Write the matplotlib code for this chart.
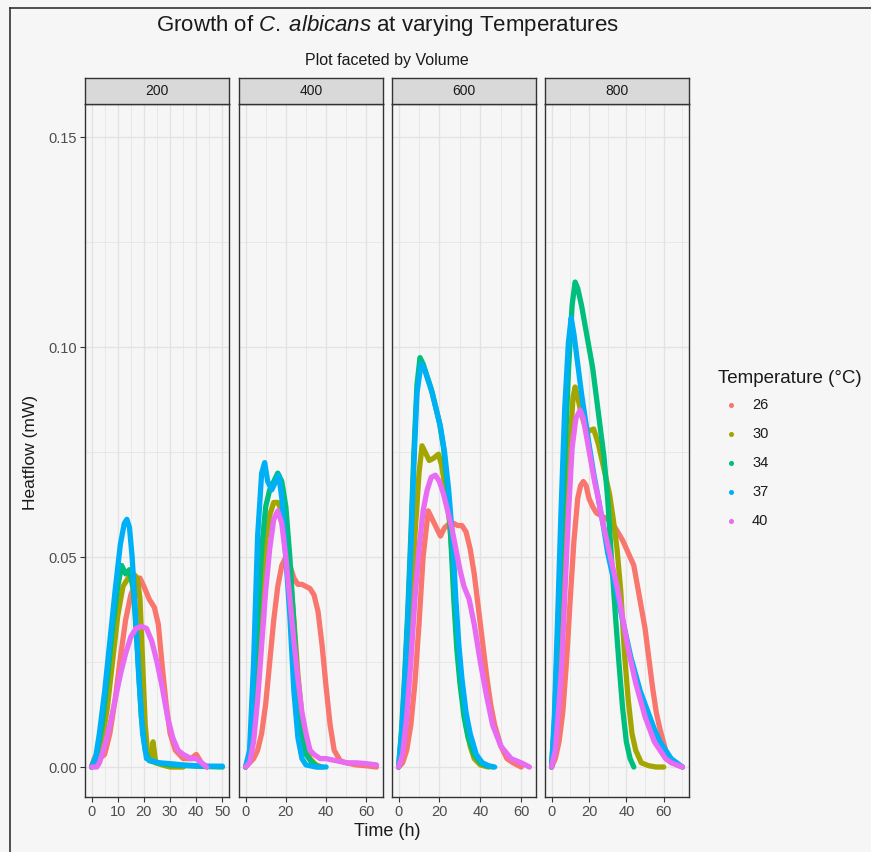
import matplotlib.pyplot as plt
from matplotlib.lines import Line2D
import numpy as np

# Heatflow curves, one pair of lists per (volume, temperature)
volumes = ["200", "400", "600", "800"]
temperatures = ["26", "30", "34", "37", "40"]

# ---- Volume 200 ----
t200_26 = [0, 1, 2, 3, 5, 7, 9, 11, 13, 15, 17, 18.5, 20, 22, 24, 25.5, 27, 28.5, 30, 32, 35, 38, 40, 42, 44]
h200_26 = [0, 0.002, 0.003, 0.002, 0.003, 0.008, 0.016, 0.026, 0.035, 0.041, 0.044, 0.045, 0.043, 0.040,
           0.038, 0.034, 0.024, 0.015, 0.008, 0.004, 0.002, 0.002, 0.003, 0.001, 0]
t200_30 = [0, 2, 4, 6, 8, 10, 12, 14, 16, 17.5, 18.5, 19.5, 20.5, 21.5, 23, 23.5, 24.5, 27, 30, 35]
h200_30 = [0, 0.002, 0.006, 0.014, 0.025, 0.036, 0.043, 0.045, 0.046, 0.045, 0.040, 0.025, 0.010, 0.003,
           0.002, 0.006, 0.001, 0.0005, 0, 0]
t200_34 = [0, 2, 4, 6, 8, 10, 11.5, 13, 14.5, 16, 17.5, 19, 20.5, 22, 25, 30, 40, 50]
h200_34 = [0, 0.003, 0.010, 0.021, 0.033, 0.043, 0.048, 0.046, 0.047, 0.042, 0.028, 0.012, 0.004, 0.0015,
           0.001, 0.0005, 0.0002, 0]
t200_37 = [0, 1.5, 3, 5, 7, 9, 11, 12.5, 13.5, 14.5, 15.5, 16.5, 18, 19.5, 21, 23, 26, 30, 35, 40, 45, 50]
h200_37 = [0, 0.002, 0.008, 0.018, 0.030, 0.042, 0.053, 0.058, 0.059, 0.057, 0.050, 0.040, 0.022, 0.008,
           0.002, 0.0015, 0.001, 0.0008, 0.0005, 0.0003, 0.0002, 0.0002]
t200_40 = [0, 2, 3, 5, 7, 9, 11, 13, 15, 17, 19, 21, 23, 25, 27, 29, 31, 33, 35, 38, 40, 42, 44]
h200_40 = [0, 0, 0.001, 0.005, 0.010, 0.016, 0.022, 0.027, 0.031, 0.033, 0.0335, 0.033, 0.030, 0.025,
           0.019, 0.012, 0.007, 0.004, 0.003, 0.002, 0.002, 0.001, 0]

# ---- Volume 400 ----
t400_26 = [0, 2, 4, 6, 8, 10, 12, 14, 16, 18, 20, 22, 24, 26, 28, 30, 32, 34, 36, 38, 40, 42, 44, 47,
           50, 55, 60, 65]
h400_26 = [0, 0.001, 0.002, 0.004, 0.008, 0.015, 0.025, 0.035, 0.043, 0.048, 0.050, 0.048, 0.045, 0.0435,
           0.0435, 0.043, 0.0425, 0.041, 0.037, 0.029, 0.019, 0.010, 0.004, 0.0015, 0.001, 0.0005, 0.0003, 0]
t400_30 = [0, 2, 4, 6, 8, 10, 12, 14, 16, 18, 20, 22, 24, 26, 28, 30, 32, 35, 38]
h400_30 = [0, 0.002, 0.010, 0.026, 0.042, 0.054, 0.060, 0.063, 0.063, 0.061, 0.056, 0.047, 0.035, 0.022,
           0.012, 0.005, 0.002, 0.0005, 0]
t400_34 = [0, 2, 4, 6, 8, 10, 12, 14, 16, 18, 20, 22, 24, 26, 28, 30, 33, 36]
h400_34 = [0, 0.003, 0.015, 0.035, 0.052, 0.062, 0.066, 0.068, 0.070, 0.068, 0.062, 0.050, 0.034, 0.018,
           0.008, 0.003, 0.001, 0]
t400_37 = [0, 2, 4, 6, 8, 9.5, 11, 13, 15, 16.5, 18, 20, 22, 24, 26, 28, 30, 35, 40]
h400_37 = [0, 0.004, 0.025, 0.055, 0.070, 0.0725, 0.068, 0.066, 0.068, 0.0695, 0.064, 0.050, 0.036, 0.018,
           0.007, 0.002, 0.0005, 0, 0]
t400_40 = [0, 2, 4, 6, 8, 10, 12, 14, 16, 18, 20, 22, 24, 26, 28, 30, 32, 34, 37, 40, 45, 50, 55, 60, 65]
h400_40 = [0, 0.001, 0.006, 0.016, 0.029, 0.042, 0.052, 0.059, 0.061, 0.058, 0.050, 0.040, 0.030, 0.021,
           0.013, 0.008, 0.004, 0.003, 0.002, 0.002, 0.0015, 0.001, 0.001, 0.0008, 0.0005]

# ---- Volume 600 ----
t600_26 = [0, 2, 4, 6, 8, 10, 12, 14.5, 16.5, 18.5, 20.5, 22.5, 25, 27, 29, 31, 33, 35, 37, 39, 41, 43,
           45, 47, 50, 53, 56, 60]
h600_26 = [0, 0.001, 0.004, 0.010, 0.020, 0.034, 0.050, 0.061, 0.059, 0.057, 0.055, 0.057, 0.058, 0.058,
           0.0575, 0.0575, 0.056, 0.052, 0.046, 0.038, 0.030, 0.022, 0.015, 0.010, 0.005, 0.002, 0.001, 0]
t600_30 = [0, 2, 4, 6, 8, 10, 11.5, 13, 15, 17, 19.5, 21, 23, 25, 27, 29, 31, 33, 35, 37, 40, 44]
h600_30 = [0, 0.006, 0.020, 0.037, 0.055, 0.070, 0.0765, 0.075, 0.073, 0.0735, 0.0745, 0.072, 0.066,
           0.058, 0.045, 0.030, 0.018, 0.010, 0.005, 0.002, 0.0005, 0]
t600_34 = [0, 1.5, 3, 4.5, 6, 7.5, 9, 10.5, 12, 14, 16, 18, 20, 22, 24, 25.5, 27, 28.5, 30, 32, 34, 37,
           40, 43, 46]
h600_34 = [0, 0.009, 0.022, 0.037, 0.055, 0.075, 0.091, 0.0975, 0.096, 0.093, 0.090, 0.086, 0.082, 0.076,
           0.066, 0.055, 0.040, 0.028, 0.020, 0.012, 0.007, 0.003, 0.001, 0.0003, 0]
t600_37 = [0, 1.5, 3, 4.5, 6, 7.5, 9, 11, 12.5, 14.5, 16.5, 18.5, 20.5, 22.5, 24.5, 26.5, 28, 29.5, 31,
           33, 35, 38, 41, 44, 47]
h600_37 = [0, 0.008, 0.020, 0.035, 0.052, 0.072, 0.089, 0.096, 0.095, 0.092, 0.089, 0.085, 0.081, 0.075,
           0.066, 0.054, 0.040, 0.029, 0.021, 0.013, 0.008, 0.003, 0.001, 0.0003, 0]
t600_40 = [0, 2, 4, 6, 8, 10, 12, 14, 16, 18, 20, 22, 24, 26, 28, 30, 32, 34.5, 37, 40, 43, 46, 50, 55,
           60, 64]
h600_40 = [0, 0.003, 0.012, 0.025, 0.040, 0.052, 0.061, 0.066, 0.069, 0.0695, 0.068, 0.065, 0.061, 0.057,
           0.052, 0.047, 0.043, 0.040, 0.034, 0.025, 0.017, 0.010, 0.005, 0.002, 0.001, 0]

# ---- Volume 800 ----
t800_26 = [0, 2, 4, 6, 8, 10, 12, 14, 15.5, 17, 18.5, 20, 22, 24, 26, 28, 30, 32, 34, 36, 38, 40, 42,
           44, 46, 48, 50, 52, 54, 56, 58, 61, 64, 67, 70]
h800_26 = [0, 0.002, 0.006, 0.013, 0.025, 0.040, 0.054, 0.064, 0.067, 0.068, 0.067, 0.064, 0.062, 0.0605,
           0.060, 0.0595, 0.059, 0.058, 0.057, 0.0555, 0.054, 0.052, 0.050, 0.048, 0.043, 0.038, 0.033,
           0.026, 0.019, 0.013, 0.009, 0.004, 0.0015, 0.0005, 0]
t800_30 = [0, 2, 4, 6, 8, 10, 11.5, 12.6, 14, 16, 18, 20, 22.5, 25, 27, 29, 31, 33, 35, 37, 39, 41, 43,
           45, 48, 52, 56, 60]
h800_30 = [0, 0.008, 0.022, 0.040, 0.058, 0.078, 0.088, 0.0905, 0.088, 0.084, 0.081, 0.080, 0.0805, 0.077,
           0.073, 0.069, 0.065, 0.059, 0.052, 0.042, 0.027, 0.016, 0.008, 0.004, 0.001, 0.0003, 0, 0]
t800_34 = [0, 1.5, 3, 5, 7, 9, 11, 12.6, 14, 16, 18, 20, 22, 24, 26, 28, 30, 32, 34, 36, 38, 40, 42, 44]
h800_34 = [0, 0.010, 0.028, 0.050, 0.072, 0.094, 0.110, 0.1155, 0.114, 0.110, 0.105, 0.100, 0.095, 0.088,
           0.081, 0.074, 0.064, 0.050, 0.037, 0.025, 0.014, 0.006, 0.002, 0]
t800_37 = [0, 1.5, 3, 5, 7, 9, 10.5, 12, 14, 16, 18, 20, 22.5, 25, 27.5, 30, 32.5, 35, 37.5, 40, 42.5,
           45, 47.5, 50, 52.5, 55, 58, 61, 64, 67, 70]
h800_37 = [0, 0.012, 0.032, 0.060, 0.085, 0.101, 0.107, 0.103, 0.096, 0.089, 0.083, 0.077, 0.070, 0.064,
           0.058, 0.051, 0.046, 0.041, 0.036, 0.031, 0.026, 0.022, 0.018, 0.015, 0.012, 0.009, 0.006,
           0.004, 0.002, 0.001, 0]
t800_40 = [0, 2, 4, 5.5, 7, 9, 11, 13, 15.3, 17, 19, 21, 23, 25, 27, 29, 31, 33, 35, 37, 39, 41, 43, 45,
           47.5, 50, 52.5, 55, 58, 61, 64, 67, 70]
h800_40 = [0, 0.004, 0.015, 0.025, 0.040, 0.060, 0.076, 0.083, 0.085, 0.083, 0.078, 0.073, 0.068, 0.064,
           0.059, 0.055, 0.051, 0.047, 0.043, 0.038, 0.033, 0.028, 0.024, 0.020, 0.016, 0.012, 0.009,
           0.006, 0.004, 0.002, 0.001, 0.0005, 0]

# per-panel x ticks (free x scales)
xticks_200 = [0, 10, 20, 30, 40, 50]
xticks_400 = [0, 20, 40, 60]
xticks_600 = [0, 20, 40, 60]
xticks_800 = [0, 20, 40, 60]
yticks = [0.00, 0.05, 0.10, 0.15]

curves = {
    "200": [(t200_26, h200_26), (t200_30, h200_30), (t200_34, h200_34), (t200_37, h200_37), (t200_40, h200_40)],
    "400": [(t400_26, h400_26), (t400_30, h400_30), (t400_34, h400_34), (t400_37, h400_37), (t400_40, h400_40)],
    "600": [(t600_26, h600_26), (t600_30, h600_30), (t600_34, h600_34), (t600_37, h600_37), (t600_40, h600_40)],
    "800": [(t800_26, h800_26), (t800_30, h800_30), (t800_34, h800_34), (t800_37, h800_37), (t800_40, h800_40)],
}
panel_ticks = {"200": xticks_200, "400": xticks_400, "600": xticks_600, "800": xticks_800}
panel_minor = {"200": 5, "400": 10, "600": 10, "800": 10}

colors = ["#F8766D", "#A3A500", "#00BF7D", "#00B0F6", "#E76BF3"]

BG = "#f6f6f6"
TXT = "#1a1a1a"
plt.rcParams['font.family'] = ['Liberation Sans', 'DejaVu Sans']
plt.rcParams['mathtext.fontset'] = 'custom'
plt.rcParams['mathtext.rm'] = 'Liberation Sans'
plt.rcParams['mathtext.it'] = 'Liberation Sans:italic'

W, H = 871, 852
fig = plt.figure(figsize=(W / 100, H / 100), dpi=100, facecolor=BG)

# outer frame lines of the screenshot
fig.add_artist(Line2D([10 / W, 10 / W], [0, 1 - 8 / H], transform=fig.transFigure, color='#333333', lw=1.2))
fig.add_artist(Line2D([10 / W, 1], [1 - 8 / H, 1 - 8 / H], transform=fig.transFigure, color='#333333', lw=1.2))

panel_left = [85, 239, 392, 545]
panel_w = 144
panel_top, panel_bot = 104, 797
strip_h = 26

ylo, yhi = -0.00714, 0.1579

for i, vol in enumerate(volumes):
    x0 = panel_left[i] / W
    ax = fig.add_axes([x0, 1 - panel_bot / H, panel_w / W, (panel_bot - panel_top) / H])
    ax.set_facecolor(BG)

    xmax = max(max(t) for t, h in curves[vol])
    pad = xmax * 0.05
    ax.set_xlim(-pad, xmax + pad)
    ax.set_ylim(ylo, yhi)

    # grid (major + minor)
    step = panel_minor[vol]
    for xv in np.arange(0, xmax + pad, step):
        major = xv in panel_ticks[vol]
        ax.axvline(xv, color='#e3e3e3', lw=1.0 if major else 0.5, zorder=0)
    for yv in np.arange(0, yhi, 0.025):
        major = round(yv / 0.05, 6) == round(yv / 0.05)
        ax.axhline(yv, color='#e3e3e3', lw=1.0 if major else 0.5, zorder=0)

    for (t, h), c in zip(curves[vol], colors):
        ax.plot(t, h, color=c, lw=3.8, solid_capstyle='round', solid_joinstyle='round', zorder=2)

    ax.set_xticks(panel_ticks[vol])
    ax.set_xticklabels([str(v) for v in panel_ticks[vol]])
    ax.set_yticks(yticks)
    ax.tick_params(axis='both', labelsize=10.5, labelcolor='#4d4d4d', color='#333333',
                   length=3.5, width=0.8, pad=2)
    if i == 0:
        ax.set_yticklabels([f"{v:.2f}" for v in yticks])
    else:
        ax.set_yticklabels([])
        ax.tick_params(axis='y', length=0)
    for s in ax.spines.values():
        s.set_color('#333333')
        s.set_linewidth(1.0)

    # facet strip
    sax = fig.add_axes([x0, 1 - panel_top / H, panel_w / W, strip_h / H])
    sax.set_facecolor('#d9d9d9')
    sax.set_xticks([])
    sax.set_yticks([])
    for s in sax.spines.values():
        s.set_color('#333333')
        s.set_linewidth(1.0)
    sax.text(0.5, 0.5, vol, ha='center', va='center', fontsize=10, color=TXT,
             transform=sax.transAxes)

cx = (85 + 689) / 2 / W
fig.text(cx, 1 - 25 / H, r"Growth of $\it{C.\:albicans}$ at varying Temperatures", ha='center', va='center',
         fontsize=16, color=TXT)
fig.text(cx, 1 - 60 / H, "Plot faceted by Volume", ha='center', va='center', fontsize=11.5, color=TXT)
fig.text(cx, 1 - 832 / H, "Time (h)", ha='center', va='center', fontsize=13, color=TXT)
fig.text(31 / W, 1 - 452 / H, "Heatflow (mW)", ha='center', va='center', rotation=90, fontsize=12.5,
         color=TXT)

# legend
fig.text(718 / W, 1 - 378 / H, "Temperature (°C)", ha='left', va='center', fontsize=13.5, color=TXT)
for k, (lab, c) in enumerate(zip(temperatures, colors)):
    yy = 1 - (405 + k * 29) / H
    fig.add_artist(Line2D([731 / W], [yy], marker='o', markersize=2.6, color=c, transform=fig.transFigure))
    fig.text(752 / W, yy, lab, ha='left', va='center', fontsize=10.5, color=TXT)

plt.savefig("out.png", dpi=100, facecolor=BG)
